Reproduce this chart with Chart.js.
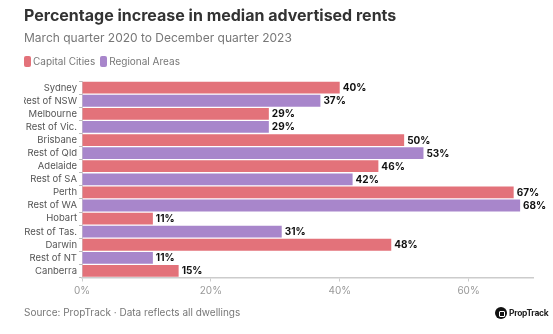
<!DOCTYPE html>
<html>
<head>
<meta charset="utf-8">
<script src="https://cdn.jsdelivr.net/npm/chart.js@4.4.1/dist/chart.umd.min.js"></script>
<style>
  html, body { margin: 0; padding: 0; background: #fff; }
  #wrap { position: relative; width: 553px; height: 334px; font-family: Inter, "Open Sans", sans-serif; }
  #chart { position: absolute; left: 0; top: 0; }
  .legend { position: absolute; left: 24px; top: 55px; font-size: 10px; color: #777; display: flex; gap: 5px; }
  .legend span { display: inline-flex; align-items: center; }
  .legend i { display: inline-block; width: 7px; height: 11px; border-radius: 2px; margin-right: 2px; }
  .footer { position: absolute; left: 24px; top: 306px; font-size: 10px; color: #777; }
  .logo { position: absolute; left: 495px; top: 307px; display: flex; align-items: center; font-size: 8.5px; font-weight: 700; color: #222; letter-spacing: -0.3px; }
  .logo b { display: inline-block; width: 12px; height: 12px; border-radius: 50%; background: #111; margin-right: 2px; position: relative; }
  .logo b::after { content: ''; position: absolute; left: 4px; top: 4px; width: 4px; height: 4px; border: 1px solid #fff; border-radius: 1px; }
</style>
</head>
<body>
<div id="wrap">
  <canvas id="chart" width="553" height="334"></canvas>
  <div class="legend" id="legend"></div>
  <div class="footer">Source: PropTrack · Data reflects all dwellings</div>
  <div class="logo"><b></b>PropTrack</div>
</div>
<script>
// ── DATOS ─────────────────────────────────────────────
const regions = ['Sydney', 'Rest of NSW', 'Melbourne', 'Rest of Vic.', 'Brisbane', 'Rest of Qld',
  'Adelaide', 'Rest of SA', 'Perth', 'Rest of WA', 'Hobart', 'Rest of Tas.', 'Darwin', 'Rest of NT', 'Canberra'];
const increases = [40, 37, 29, 29, 50, 53, 46, 42, 67, 68, 11, 31, 48, 11, 15];
const groups = ['cap', 'reg', 'cap', 'reg', 'cap', 'reg', 'cap', 'reg', 'cap', 'reg', 'cap', 'reg', 'cap', 'reg', 'cap'];
const xTicks = [0, 20, 40, 60];

const GROUP_META = {
  cap: { label: 'Capital Cities', color: '#E3727A' },
  reg: { label: 'Regional Areas', color: '#A886CB' },
};

// leyenda HTML
document.getElementById('legend').innerHTML = Object.values(GROUP_META)
  .map(g => `<span><i style="background:${g.color}"></i>${g.label}</span>`).join('');

// etiquetas de valor al final de cada barra
const valueLabels = {
  id: 'valueLabels',
  afterDatasetsDraw(chart) {
    const { ctx } = chart;
    const meta = chart.getDatasetMeta(0);
    ctx.save();
    ctx.font = '700 10px Inter, sans-serif';
    ctx.fillStyle = '#111';
    ctx.textBaseline = 'middle';
    meta.data.forEach((bar, i) => {
      ctx.fillText(increases[i] + '%', bar.x + 3, bar.y + 0.5);
    });
    ctx.restore();
  }
};

new Chart(document.getElementById('chart'), {
  type: 'bar',
  data: {
    labels: regions,
    datasets: [{
      data: increases,
      backgroundColor: groups.map(g => GROUP_META[g].color),
      barPercentage: 0.9,
      categoryPercentage: 1,
    }]
  },
  options: {
    indexAxis: 'y',
    responsive: false,
    animation: false,
    layout: { padding: { left: 24, right: 20, top: 0, bottom: 34.5 } },
    plugins: {
      legend: { display: false },
      tooltip: { enabled: false },
      title: {
        display: true, align: 'start',
        text: 'Percentage increase in median advertised rents',
        color: '#333', font: { family: 'Inter', size: 16, weight: '700' },
        padding: { top: 7, bottom: 3 }
      },
      subtitle: {
        display: true, align: 'start',
        text: 'March quarter 2020 to December quarter 2023',
        color: '#777', font: { family: 'Inter', size: 12 },
        padding: { top: 2, bottom: 35.5 }
      }
    },
    scales: {
      x: {
        min: 0, max: 70,
        afterBuildTicks: s => { s.ticks = xTicks.map(v => ({ value: v })); },
        afterFit: s => { s.height = 22; },
        grid: { display: true, drawOnChartArea: false, tickLength: 4, color: '#ccc' },
        border: { color: '#ccc', width: 1.5 },
        ticks: { color: '#999', font: { family: 'Inter', size: 10 }, padding: 3, callback: v => v + '%' }
      },
      y: {
        afterFit: s => { s.width = 58; },
        grid: { display: true, drawOnChartArea: false, tickLength: 3, color: '#bbb' },
        border: { color: '#ccc', width: 1 },
        ticks: { color: '#555', font: { family: 'Inter', size: 9.5 }, padding: 2, autoSkip: false }
      }
    }
  },
  plugins: [valueLabels]
});
</script>
</body>
</html>
